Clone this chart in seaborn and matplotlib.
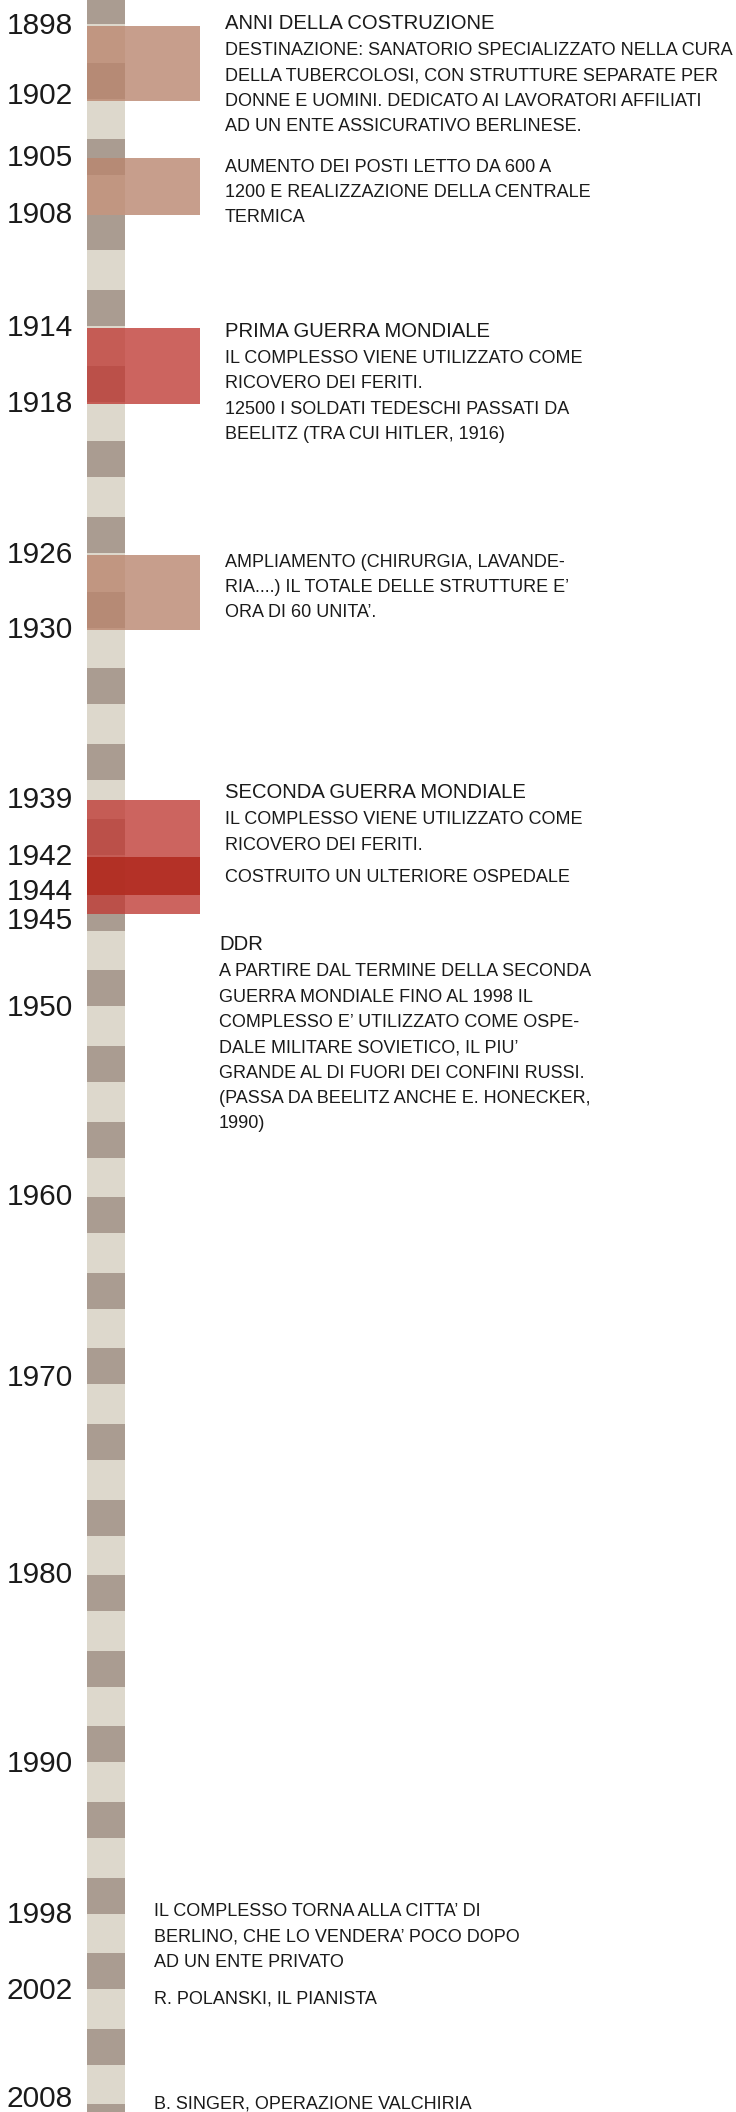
import numpy as np
import matplotlib
matplotlib.use("Agg")
import matplotlib.pyplot as plt
import seaborn as sns

# years written on the left of the bar
YEAR_LABELS = [1898, 1902, 1905, 1908, 1914, 1918, 1926, 1930, 1939, 1942,
               1944, 1945, 1950, 1960, 1970, 1980, 1990, 1998, 2002, 2008]

# highlighted periods along the bar
PERIOD_START = [1898, 1905, 1914, 1926, 1939, 1942]
PERIOD_END = [1902, 1908, 1918, 1930, 1945, 1944]
PERIOD_KIND = ["costruzione", "costruzione", "guerra", "costruzione", "guerra", "ospedale"]

# striped bar: a dark band every 4 years
BAND_FIRST = 1896
BAND_LAST = 2012
BAND_STEP = 4
BAND_DARK = 1.9

# notes on the right (year the note is written at, title, lines)
NOTE_YEARS = [1897.9, 1905.5, 1914.2, 1926.4, 1938.6, 1943.1, 1946.65, 1997.8, 2002.4, 2008.0]
NOTE_TITLES = ["ANNI DELLA COSTRUZIONE", None, "PRIMA GUERRA MONDIALE", None,
               "SECONDA GUERRA MONDIALE", None, "DDR", None, None, None]
NOTE_LINES = [
    ["DESTINAZIONE: SANATORIO SPECIALIZZATO NELLA CURA",
     "DELLA TUBERCOLOSI, CON STRUTTURE SEPARATE PER",
     "DONNE E UOMINI. DEDICATO AI LAVORATORI AFFILIATI",
     "AD UN ENTE ASSICURATIVO BERLINESE."],
    ["AUMENTO DEI POSTI LETTO DA 600 A",
     "1200 E REALIZZAZIONE DELLA CENTRALE",
     "TERMICA"],
    ["IL COMPLESSO VIENE UTILIZZATO COME",
     "RICOVERO DEI FERITI.",
     "12500 I SOLDATI TEDESCHI PASSATI DA",
     "BEELITZ (TRA CUI HITLER, 1916)"],
    ["AMPLIAMENTO (CHIRURGIA, LAVANDE-",
     "RIA....) IL TOTALE DELLE STRUTTURE E’",
     "ORA DI 60 UNITA’."],
    ["IL COMPLESSO VIENE UTILIZZATO COME",
     "RICOVERO DEI FERITI."],
    ["COSTRUITO UN ULTERIORE OSPEDALE"],
    ["A PARTIRE DAL TERMINE DELLA SECONDA",
     "GUERRA MONDIALE FINO AL 1998 IL",
     "COMPLESSO E’ UTILIZZATO COME OSPE-",
     "DALE MILITARE SOVIETICO, IL PIU’",
     "GRANDE AL DI FUORI DEI CONFINI RUSSI.",
     "(PASSA DA BEELITZ ANCHE E. HONECKER,",
     "1990)"],
    ["IL COMPLESSO TORNA ALLA CITTA’ DI",
     "BERLINO, CHE LO VENDERA’ POCO DOPO",
     "AD UN ENTE PRIVATO"],
    ["R. POLANSKI, IL PIANISTA"],
    ["B. SINGER, OPERAZIONE VALCHIRIA"],
]

# layout / style
W, H = 736, 2112
Y_TOP, Y_BOTTOM = 1896.65, 2008.4
BAR_X0, BAR_X1 = 87, 125
RECT_X1 = 200
NOTE_X = [225, 225, 225, 225, 225, 225, 219, 154, 154, 154]
LABEL_NUDGE_PX = {1902: -5, 1944: -3, 1945: 7, 1970: -8, 2008: -5}
LIGHT = "#ddd8cc"
DARK = "#aa9c91"
KIND_COLOR = {"costruzione": "#ba866f", "guerra": "#c03d37", "ospedale": "#ae251a"}
TEXT = "#1a1a1a"
PT = 0.72  # points per pixel at dpi 100

sns.set_theme(style="white")
plt.rcParams["font.family"] = ["Liberation Sans", "DejaVu Sans"]

fig = plt.figure(figsize=(W / 100, H / 100), dpi=100)
ax = fig.add_axes([0, 0, 1, 1])
ax.set_xlim(0, W)
ax.set_ylim(Y_BOTTOM, Y_TOP)
ax.axis("off")

# striped bar
bar_c = (BAR_X0 + BAR_X1) / 2
bar_w = BAR_X1 - BAR_X0
ax.bar(bar_c, Y_BOTTOM - Y_TOP + 2, bottom=Y_TOP - 1, width=bar_w, color=LIGHT, linewidth=0)
band_starts = np.arange(BAND_FIRST, BAND_LAST, BAND_STEP)
ax.bar(np.full(len(band_starts), bar_c), BAND_DARK, bottom=band_starts,
       width=bar_w, color=DARK, linewidth=0)

# periods
rect_c = (BAR_X0 + RECT_X1) / 2
rect_w = RECT_X1 - BAR_X0
for s, e, k in zip(PERIOD_START, PERIOD_END, PERIOD_KIND):
    ax.bar(rect_c, e - s, bottom=s, width=rect_w, color=KIND_COLOR[k],
           alpha=0.8, linewidth=0)

# year labels
for yr in YEAR_LABELS:
    ax.annotate(str(yr), xy=(73, yr), xytext=(0, -LABEL_NUDGE_PX.get(yr, 0) * PT),
                textcoords="offset points", ha="right", va="center",
                fontsize=21.5, color=TEXT)

# notes
for yr, x, title, lines in zip(NOTE_YEARS, NOTE_X, NOTE_TITLES, NOTE_LINES):
    off = 0
    if title:
        ax.annotate(title, xy=(x, yr), xytext=(0, 0), textcoords="offset points",
                    ha="left", va="center", fontsize=14.6, color=TEXT)
        off = 27
    for i, line in enumerate(lines):
        ax.annotate(line, xy=(x, yr), xytext=(0, -(off + i * 25.3) * PT),
                    textcoords="offset points", ha="left", va="center",
                    fontsize=12.95, color=TEXT)

fig.savefig("out.png", dpi=100)
